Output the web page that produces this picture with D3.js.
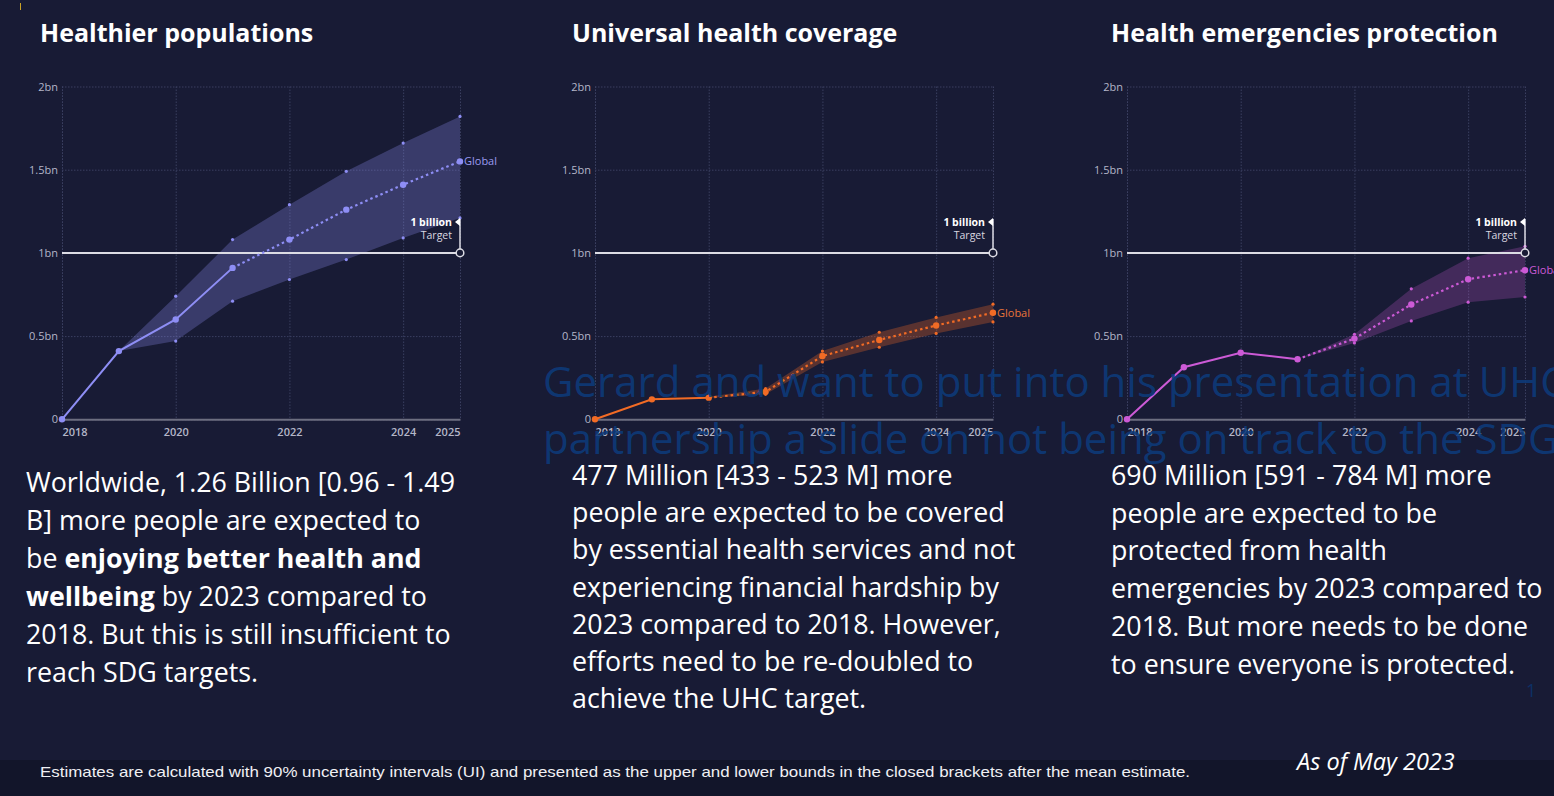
<!DOCTYPE html>
<html>
<head>
<meta charset="utf-8">
<script src="https://cdn.jsdelivr.net/npm/d3@7"></script>
<style>
  html, body { margin: 0; padding: 0; background: #181b35; }
  svg { display: block; }
</style>
</head>
<body>
<svg id="chart" width="1554" height="796"></svg>
<script>
// ---------------- DATA ----------------
const years = [2018, 2019, 2020, 2021, 2022, 2023, 2024, 2025];
const yearTicks = [2018, 2020, 2022, 2024, 2025];
const valueTicks = [0, 0.5, 1, 1.5, 2];
const valueTickLabels = ["0", "0.5bn", "1bn", "1.5bn", "2bn"];
const targetValue = 1;

// Healthier populations (billions)
const hpMean  = [0, 0.41, 0.60, 0.91, 1.08, 1.26, 1.41, 1.55];
const hpUpper = [null, 0.41, 0.74, 1.08, 1.29, 1.49, 1.66, 1.82];
const hpLower = [null, 0.41, 0.47, 0.71, 0.84, 0.96, 1.09, 1.21];

// Universal health coverage (billions)
const uhcMean  = [0, 0.12, 0.13, 0.165, 0.38, 0.477, 0.564, 0.64];
const uhcUpper = [null, null, 0.135, 0.185, 0.41, 0.523, 0.612, 0.692];
const uhcLower = [null, null, 0.128, 0.150, 0.345, 0.433, 0.516, 0.585];

// Health emergencies protection (billions)
const hepMean  = [0, 0.313, 0.40, 0.361, 0.485, 0.69, 0.842, 0.896];
const hepUpper = [null, null, null, 0.361, 0.511, 0.784, 0.968, 1.04];
const hepLower = [null, null, null, 0.361, 0.459, 0.591, 0.704, 0.735];

const titles = ["Healthier populations", "Universal health coverage", "Health emergencies protection"];
const seriesLabel = "Global";

const paragraphs = [
  [
    [["Worldwide, 1.26 Billion [0.96 - 1.49", false]],
    [["B] more people are expected to", false]],
    [["be ", false], ["enjoying better health and", true]],
    [["wellbeing", true], [" by 2023 compared to", false]],
    [["2018. But this is still insufficient to", false]],
    [["reach SDG targets.", false]]
  ],
  [
    [["477 Million [433 - 523 M] more", false]],
    [["people are expected to be covered", false]],
    [["by essential health services and not", false]],
    [["experiencing financial hardship by", false]],
    [["2023 compared to 2018. However,", false]],
    [["efforts need to be re-doubled to", false]],
    [["achieve the UHC target.", false]]
  ],
  [
    [["690 Million [591 - 784 M] more", false]],
    [["people are expected to be", false]],
    [["protected from health", false]],
    [["emergencies by 2023 compared to", false]],
    [["2018. But more needs to be done", false]],
    [["to ensure everyone is protected.", false]]
  ]
];
const overlayLines = [
  "Gerard and want to put into his presentation at UHC",
  "partnership a slide on not being on track to the SDG"
];
const footnote = "Estimates are calculated with 90% uncertainty intervals (UI) and presented as the upper and lower bounds in the closed brackets after the mean estimate.";
const dateNote = "As of May 2023";

// ---------------- LAYOUT ----------------
const svg = d3.select("#chart");
const W = 1554, H = 796;

svg.append("rect").attr("x", 0).attr("y", 0).attr("width", W).attr("height", H).attr("fill", "#181b35");
svg.append("rect").attr("x", 0).attr("y", 760).attr("width", W).attr("height", 36).attr("fill", "#12152a");
svg.append("line").attr("x1", 20.5).attr("x2", 20.5).attr("y1", 3).attr("y2", 10)
  .attr("stroke", "#c9a227").attr("stroke-width", 1);

const panels = [
  { x0: 62,   x1: 460,  titleX: 40,   textX: 26,   textY: 492, lh: 37.9,
    mean: hpMean, upper: hpUpper, lower: hpLower, solidUntil: 2021,
    color: "#8e8ef5", label: "#9a9af0", band: "#8e8ef5", bandOp: 0.28 },
  { x0: 595,  x1: 993,  titleX: 572,  textX: 572,  textY: 485, lh: 37.2,
    mean: uhcMean, upper: uhcUpper, lower: uhcLower, solidUntil: 2020,
    color: "#f26b25", label: "#e8743a", band: "#f26b25", bandOp: 0.30 },
  { x0: 1127, x1: 1525, titleX: 1111, textX: 1111, textY: 485, lh: 37.7,
    mean: hepMean, upper: hepUpper, lower: hepLower, solidUntil: 2021,
    color: "#cc5ad6", label: "#cc5ad6", band: "#cc5ad6", bandOp: 0.24 }
];

const yTop = 86.5, yBottom = 419.3;
const tickFont = "'Open Sans', sans-serif";
const bodyFont = "'Open Sans', Lato, sans-serif";

panels.forEach((p, i) => {
  const x = d3.scaleLinear().domain([2018, 2025]).range([p.x0, p.x1]);
  const y = d3.scaleLinear().domain([0, 2]).range([yBottom, yTop]);
  const g = svg.append("g");

  // title
  svg.append("text").attr("x", p.titleX).attr("y", 42)
    .attr("font-family", bodyFont).attr("font-weight", 700).attr("font-size", 25)
    .attr("fill", "#ffffff").text(titles[i]);

  // horizontal grid
  const gy = g.append("g").attr("transform", `translate(${p.x0},0)`)
    .call(d3.axisLeft(y).tickValues(valueTicks).tickSize(-(p.x1 - p.x0)).tickFormat(""));
  gy.select(".domain").remove();
  gy.selectAll("line").attr("stroke", "#3a3f60").attr("stroke-dasharray", "1.5,1.5");

  // vertical grid
  const gx = g.append("g").attr("transform", `translate(0,${yTop})`)
    .call(d3.axisBottom(x).tickValues(yearTicks.concat([2018])).tickSize(yBottom - yTop).tickFormat(""));
  gx.select(".domain").remove();
  gx.selectAll("line").attr("stroke", "#3a3f60").attr("stroke-dasharray", "1.5,1.5");

  // y labels
  const yl = g.append("g").attr("transform", `translate(${p.x0},0)`)
    .call(d3.axisLeft(y).tickValues(valueTicks).tickSize(0).tickPadding(4)
      .tickFormat((d, k) => valueTickLabels[k]));
  yl.select(".domain").remove();
  yl.selectAll("text").attr("font-family", tickFont).attr("font-size", 11).attr("fill", "#b4b6c8");

  // x axis
  const xa = g.append("g").attr("transform", `translate(0,${yBottom})`)
    .call(d3.axisBottom(x).tickValues(yearTicks).tickSize(0).tickPadding(9).tickFormat(d3.format("d")));
  xa.select(".domain").attr("stroke", "#6c6e80").attr("stroke-width", 2);
  xa.selectAll("text").attr("font-family", tickFont).attr("font-size", 11).attr("font-weight", 600)
    .attr("fill", "#b4b6c8")
    .attr("text-anchor", d => d === 2018 ? "start" : (d === 2025 ? "end" : "middle"));

  // uncertainty band
  const bandData = years.map((yr, k) => ({ yr, lo: p.lower[k], hi: p.upper[k] })).filter(d => d.lo != null);
  g.append("path").datum(bandData)
    .attr("d", d3.area().x(d => x(d.yr)).y0(d => y(d.lo)).y1(d => y(d.hi)))
    .attr("fill", p.band).attr("fill-opacity", p.bandOp);
  bandData.filter(d => d.hi - d.lo > 0.01).forEach(d => {
    g.append("circle").attr("cx", x(d.yr)).attr("cy", y(d.hi)).attr("r", 1.6).attr("fill", p.color);
    g.append("circle").attr("cx", x(d.yr)).attr("cy", y(d.lo)).attr("r", 1.6).attr("fill", p.color);
  });

  // target line
  g.append("line").attr("x1", x(2018)).attr("x2", x(2025)).attr("y1", y(targetValue)).attr("y2", y(targetValue))
    .attr("stroke", "#dcdce4").attr("stroke-width", 2);

  // mean line
  const meanData = years.map((yr, k) => ({ yr, v: p.mean[k] }));
  const line = d3.line().x(d => x(d.yr)).y(d => y(d.v));
  g.append("path").datum(meanData.filter(d => d.yr <= p.solidUntil))
    .attr("d", line).attr("fill", "none").attr("stroke", p.color).attr("stroke-width", 2);
  g.append("path").datum(meanData.filter(d => d.yr >= p.solidUntil))
    .attr("d", line).attr("fill", "none").attr("stroke", p.color).attr("stroke-width", 2.2)
    .attr("stroke-dasharray", "2.5,3");
  meanData.forEach(d => {
    g.append("circle").attr("cx", x(d.yr)).attr("cy", y(d.v)).attr("r", 3.2).attr("fill", p.color);
  });

  // Global label
  g.append("text").attr("x", x(2025) + 4).attr("y", y(p.mean[7]) + 4)
    .attr("font-family", tickFont).attr("font-size", 11).attr("fill", p.label).text(seriesLabel);

  // target marker + annotation
  const ty = y(1.186);
  g.append("line").attr("x1", x(2025)).attr("x2", x(2025)).attr("y1", y(targetValue)).attr("y2", ty - 3)
    .attr("stroke", "#dcdce4").attr("stroke-width", 1.5);
  g.append("path").attr("d", `M${x(2025)},${ty - 4} L${x(2025) - 5},${ty} L${x(2025)},${ty + 4} Z`)
    .attr("fill", "#ffffff");
  g.append("circle").attr("cx", x(2025)).attr("cy", y(targetValue)).attr("r", 3.8)
    .attr("fill", "#181b35").attr("stroke", "#dcdce4").attr("stroke-width", 1.5);
  g.append("text").attr("x", x(2025) - 8).attr("y", ty + 4).attr("text-anchor", "end")
    .attr("font-family", tickFont).attr("font-size", 10.5).attr("font-weight", 700).attr("fill", "#ffffff")
    .text("1 billion");
  g.append("text").attr("x", x(2025) - 8).attr("y", ty + 17).attr("text-anchor", "end")
    .attr("font-family", tickFont).attr("font-size", 10.5).attr("fill", "#d8d8e0").text("Target");

  // paragraph
  const para = svg.append("text").attr("font-family", bodyFont).attr("font-size", 26.8).attr("fill", "#ffffff");
  paragraphs[i].forEach((ln, k) => {
    const t = para.append("tspan").attr("x", p.textX).attr("y", p.textY + k * p.lh);
    ln.forEach(([s, b], j) => {
      const ts = j === 0 ? t : para.append("tspan");
      ts.attr("font-weight", b ? 700 : 400).text(s);
    });
  });
});

// overlay text
overlayLines.forEach((s, k) => {
  svg.append("text").attr("x", 543).attr("y", 397 + k * 57)
    .attr("font-family", bodyFont).attr("font-size", 42).attr("fill", "#0d3a7a").attr("fill-opacity", 0.9)
    .text(s);
});

// slide number
svg.append("text").attr("x", 1526).attr("y", 697).attr("font-family", bodyFont).attr("font-size", 18)
  .attr("fill", "#0d3066").text("1");

// footer
svg.append("text").attr("x", 40).attr("y", 777)
  .attr("font-family", "'Liberation Sans Narrow', 'Liberation Sans', Arial, sans-serif").attr("font-size", 15)
  .attr("fill", "#f0f0f4").attr("textLength", 1150).attr("lengthAdjust", "spacingAndGlyphs").text(footnote);
svg.append("text").attr("x", 1297).attr("y", 770)
  .attr("font-family", bodyFont).attr("font-style", "italic").attr("font-size", 23.5)
  .attr("fill", "#ffffff").text(dateNote);
</script>
</body>
</html>
